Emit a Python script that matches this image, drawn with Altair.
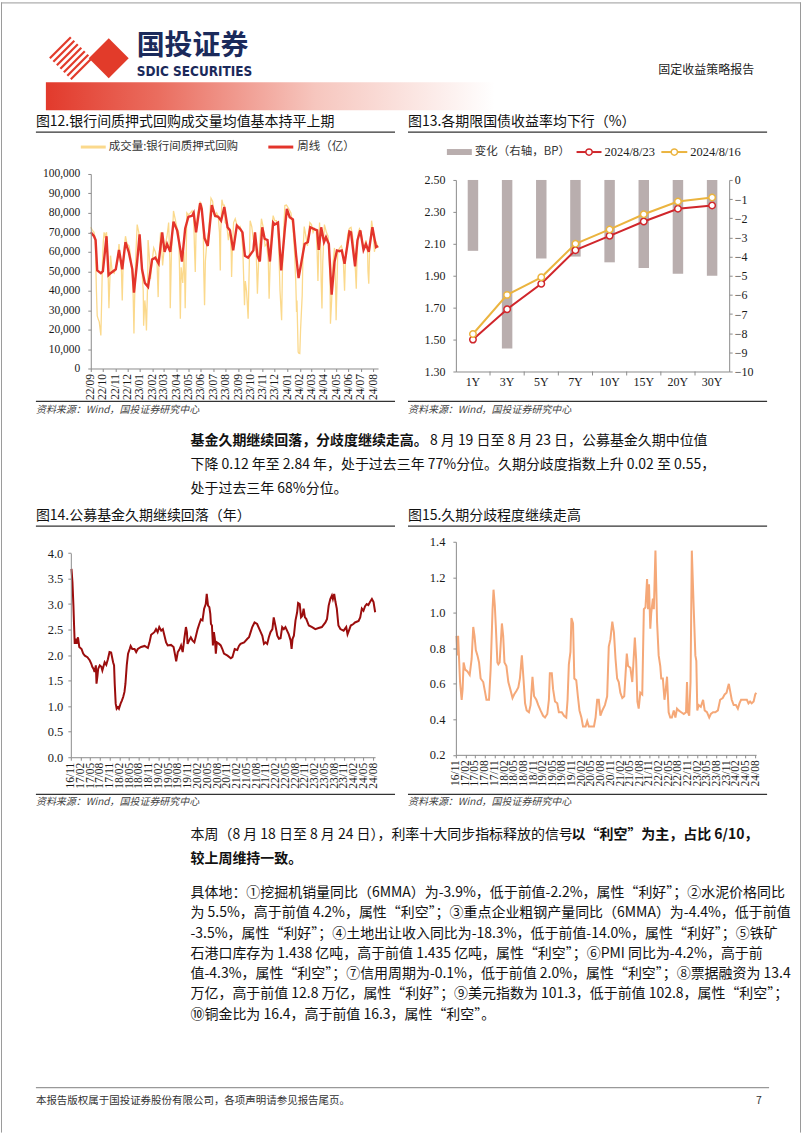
import altair as alt
import pandas as pd
import numpy as np

CJK = "Noto Sans CJK SC"
SERIF = "Liberation Serif"
LATIN_BOLD = "Liberation Sans Narrow, DejaVu Sans Condensed, Liberation Sans"

# page position of the first grid cell (top-left of the Fig.12 plot area)
OX, OY = 90, 172

# ---------------- Figure 12: interbank pledged repo volume (亿) ----------------
f12_start = pd.Timestamp("2022-09-01")
f12_daily_day = [0,4,8,11,14,16,19,21,25,27,29,31,33,35,39,42,45,48,49,53,58,62,66,70,73,76,78,80,83,86,90,95,99,103,105,107,108,111,115,119,123,127,130,131,134,136,138,141,142,145,148,152,156,160,164,167,169,173,175,178,182,185,189,193,196,197,200,203,205,210,214,218,220,222,224,228,231,233,234,237,238,242,247,251,255,257,259,261,265,271,275,279,280,282,284,288,292,296,298,302,305,308,312,316,319,321,322,325,328,331,333,337,341,345,348,349,351,354,358,362,366,370,374,377,381,383,386,388,390,393,395,399,403,407,410,413,416,419,423,427,432,436,440,442,445,448,452,456,460,463,466,469,473,475,478,481,485,491,496,501,505,508,510,511,514,515,518,520,524,526,529,533,537,540,543,547,551,555,559,561,563,566,567,570,571,573,575,579,584,588,590,593,594,597,600,604,607,608,611,612,617,621,625,627,629,631,635,637,641,645,649,653,656,658,660,663,666,670,674,678,682,686,687,689,691,695,696,700,703,707,711,712]
f12_daily_val = [72600,71000,70000,66000,40000,27000,25000,24000,17000,35000,55000,65000,70000,68000,70000,58000,31000,50000,58000,50000,49000,52000,55000,64000,56000,50000,35000,52000,62000,68000,64000,63000,57000,48000,38000,18000,30000,55000,74000,70000,63000,50000,40000,22000,35000,30000,19600,45000,66000,58000,46000,55000,62000,60000,56000,36700,55000,70000,65000,53000,62000,64000,68000,75000,55000,31000,60000,72000,81000,76000,72000,70000,50000,25600,52000,44000,60000,44000,31000,65000,80000,79000,80000,81000,78000,62000,49600,72000,80000,85500,84000,70000,50000,32500,55000,66000,70000,82000,87500,86000,80000,78000,80000,78000,70000,50400,70000,86800,84000,84000,75000,74000,66000,72000,60000,47000,62000,75000,77000,74000,72000,73000,70000,60000,32500,45000,40000,33000,25600,55000,76000,73000,66000,70000,60000,38500,55000,65000,77000,73000,63000,64000,55000,35900,57000,70000,78600,76000,76000,73000,62000,40000,24800,50000,70000,83800,84000,82000,80000,73000,60000,45000,29000,35000,8500,8000,7700,20000,37600,60000,73000,68000,63000,70000,75000,74000,70000,72000,71000,60000,45000,68000,75000,60000,45000,30800,55000,74000,70000,68000,63000,45000,23000,35000,53000,62000,40000,24800,50000,60000,62000,63000,60000,50000,40000,55000,65000,69000,72000,72600,68000,60000,50000,41000,58000,70000,71800,70000,64000,63000,66000,60000,50000,43600,60000,72000,76000,70000,60000,65000,63000,62000]
f12_week_day = [0,8,12,16,25,30,35,39,44,49,62,70,78,86,94,103,107,115,121,127,134,142,152,160,168,177,183,189,197,205,214,222,226,234,242,251,255,261,271,275,282,290,300,308,316,323,331,339,345,353,362,370,376,382,390,403,407,413,419,425,431,438,444,452,456,464,472,481,486,493,501,509,515,522,530,538,544,555,561,565,571,578,583,590,597,604,610,616,622,629,641,645,655,661,668,676,682,689,698,707,712]
f12_week_val = [70000,68000,66000,50400,49000,50000,60000,68000,48000,49000,51000,61000,51000,65000,60000,51000,39000,55000,69000,51000,44000,42000,56000,57000,54000,70000,60000,64000,60000,75500,71000,61000,55000,72000,78000,78500,80000,70000,85000,82000,67000,63000,84000,78500,78000,76000,83000,72600,71000,60700,73500,71800,70000,58000,57000,60700,70000,58000,55000,72600,66700,66000,55000,75000,74000,75000,50400,71800,82000,77800,76600,58000,46500,54700,64000,65000,72600,71500,71000,61000,72600,65000,67500,64000,38000,54700,60700,60300,60700,53800,70400,70000,52500,66000,71000,61000,64000,60000,72600,62400,63000]

# ---------------- Figure 13: government bond yields ----------------
tenors = ["1Y", "3Y", "5Y", "7Y", "10Y", "15Y", "20Y", "30Y"]
chg_bp = [-3.7, -8.8, -4.1, -4.0, -4.3, -4.6, -4.9, -5.0]
yld_0823 = [1.50, 1.69, 1.85, 2.06, 2.15, 2.24, 2.32, 2.34]
yld_0816 = [1.535, 1.78, 1.89, 2.10, 2.19, 2.285, 2.365, 2.39]
series13 = ["2024/8/23", "2024/8/16"]

# ---------------- Figure 14: fund duration (years) ----------------
f14_start = pd.Timestamp("2016-11-01")
f14_month = [0.2,0.5,0.8,1.0,1.2,1.5,1.8,2.2,2.6,3.3,3.8,4.3,5.1,5.8,6.3,6.6,7.0,7.3,7.7,7.9,8.2,8.4,8.9,9.4,9.7,10.4,10.9,11.4,11.9,12.4,13.0,13.3,13.5,13.8,14.1,14.5,14.8,15.3,15.7,16.1,16.5,16.8,17.2,17.6,18.1,18.4,18.9,19.6,20.1,20.6,21.6,22.7,23.7,24.2,24.7,25.7,26.2,26.7,27.2,27.8,28.3,28.8,29.3,29.8,30.8,31.6,32.1,32.4,32.9,33.4,33.9,34.4,34.9,35.4,35.7,35.9,36.4,36.9,37.4,38.0,38.5,39.0,39.5,40.0,40.5,41.0,41.5,41.8,42.2,42.6,42.9,43.1,43.4,43.7,44.0,44.3,44.6,44.9,45.6,46.1,46.6,47.1,48.2,49.2,49.7,50.4,51.2,51.7,52.2,53.3,54.3,54.8,55.3,55.8,56.5,57.3,58.4,58.9,59.4,59.9,60.4,60.9,61.4,62.0,62.4,63.0,63.5,64.0,64.5,65.0,65.5,66.0,66.5,67.0,67.6,67.9,68.2,68.6,69.1,69.6,69.9,70.4,70.8,71.2,71.6,72.0,72.4,73.2,74.2,75.2,76.2,77.2,78.3,78.8,79.3,79.8,80.3,80.6,81.0,81.4,81.8,82.3,82.9,83.9,84.7,85.1,85.7,86.1,86.9,87.4,88.5,89.0,89.5,90.0,90.5,91.0,91.5,92.0,92.6,93.1,93.6]
f14_val = [3.69,3.43,2.97,2.58,2.22,2.32,2.22,2.35,2.16,2.12,2.03,1.99,1.96,1.90,1.83,1.77,1.73,1.67,1.80,1.44,1.60,1.73,1.80,1.77,1.70,1.86,1.81,1.92,2.06,2.05,1.86,1.80,1.44,1.05,0.95,0.98,0.95,1.05,1.11,1.18,1.28,1.44,1.80,2.03,2.12,2.18,2.12,2.12,2.06,2.12,2.16,2.18,2.14,2.25,2.40,2.45,2.51,2.45,2.55,2.48,2.51,2.38,2.25,2.19,2.20,2.16,1.99,1.88,2.06,2.11,2.19,2.06,2.32,2.55,2.45,2.22,2.29,2.35,2.29,2.25,2.38,2.51,2.61,2.70,2.68,2.91,3.00,3.20,2.97,2.94,2.81,2.61,2.58,2.19,2.45,2.32,2.03,2.25,2.22,2.19,2.12,2.03,1.99,1.94,1.96,2.12,2.10,2.18,2.22,2.25,2.32,2.35,2.45,2.55,2.64,2.61,2.45,2.38,2.22,2.25,2.22,2.35,2.45,2.51,2.74,2.55,2.38,2.32,2.33,2.55,2.51,2.55,2.48,2.41,2.29,2.12,2.32,2.38,2.68,2.84,3.02,3.00,2.74,2.77,2.91,2.74,2.71,2.58,2.55,2.51,2.53,2.55,2.64,2.71,2.97,3.10,3.17,3.10,3.20,3.04,2.91,2.58,2.51,2.48,2.55,2.41,2.51,2.58,2.61,2.64,2.67,2.74,2.91,2.87,2.96,3.00,2.98,3.04,3.10,3.04,2.84]

# ---------------- Figure 15: duration dispersion ----------------
f15_month = [0.2,0.5,0.7,1.0,1.3,1.8,2.1,2.4,2.9,3.6,4.3,4.9,5.4,5.8,6.2,6.7,7.2,7.7,8.5,9.1,9.5,10.3,10.8,11.4,11.7,12.1,12.4,12.9,13.2,13.6,14.3,14.7,15.1,15.7,16.3,16.9,17.6,18.1,18.8,19.4,19.9,20.5,21.0,21.5,22.0,22.7,23.2,23.8,24.3,25.0,25.6,26.3,27.1,27.7,28.4,28.9,29.2,29.8,30.2,30.8,31.5,32.0,32.9,33.6,34.3,34.7,35.1,35.6,35.9,36.4,36.8,37.4,37.9,38.4,39.0,39.5,40.3,40.8,41.3,41.8,42.4,42.9,43.4,43.9,44.4,44.9,45.5,46.3,47.0,47.5,48.0,48.6,49.1,49.6,50.1,50.6,51.1,51.7,52.3,52.7,53.1,53.5,54.2,54.8,55.1,55.6,56.0,56.4,56.8,57.3,57.9,58.4,58.9,59.4,59.7,60.0,60.4,60.7,61.2,61.5,62.0,62.5,63.0,63.5,63.8,64.3,64.8,65.1,65.6,66.1,66.6,67.1,67.7,68.2,68.7,69.2,70.0,70.8,71.5,71.8,72.1,72.5,72.9,73.3,73.9,74.4,74.7,75.0,75.4,76.1,76.8,77.3,78.0,78.7,79.2,79.9,80.6,81.4,82.1,82.9,83.5,84.1,84.5,84.8,85.2,85.7,86.3,87.0,87.6,88.1,88.6,89.2,89.7,90.4,90.9,91.4,91.9,92.5,93.0,93.3]
f15_val = [0.87,0.76,0.87,0.74,0.61,0.51,0.57,0.72,0.68,0.67,0.65,0.74,0.92,0.87,0.79,0.76,0.72,0.63,0.61,0.55,0.51,0.51,0.68,1.02,1.13,1.04,0.93,0.72,0.71,0.72,0.94,0.87,0.72,0.70,0.61,0.57,0.52,0.54,0.56,0.58,0.63,0.76,0.63,0.49,0.45,0.44,0.48,0.64,0.53,0.51,0.48,0.45,0.42,0.41,0.43,0.51,0.66,0.66,0.57,0.50,0.49,0.44,0.44,0.42,0.41,0.51,0.71,0.78,0.97,0.94,0.63,0.62,0.53,0.45,0.41,0.36,0.36,0.39,0.36,0.36,0.36,0.36,0.41,0.51,0.51,0.42,0.45,0.48,0.53,0.81,0.85,0.95,0.89,0.74,0.63,0.61,0.55,0.52,0.53,0.65,0.77,0.70,0.69,0.61,0.70,0.86,0.74,0.50,0.46,0.55,0.54,1.02,1.03,1.19,1.02,1.16,0.91,1.00,1.08,1.02,1.35,0.95,0.76,0.70,0.63,0.63,0.51,0.55,0.64,0.44,0.41,0.41,0.45,0.41,0.46,0.45,0.44,0.43,0.44,0.61,0.44,0.42,0.61,1.35,1.02,0.76,0.73,0.45,0.48,0.47,0.51,0.45,0.44,0.41,0.43,0.44,0.44,0.45,0.51,0.52,0.54,0.55,0.58,0.60,0.56,0.51,0.48,0.48,0.46,0.49,0.51,0.51,0.51,0.51,0.49,0.50,0.49,0.50,0.54,0.55]

# ---------------- colours ----------------
RED12, YEL12 = "#E3342B", "#FBD98C"
RED13, GOLD13, BAR13 = "#D0262B", "#EBB43F", "#B9AEAE"
RED14, ORG15 = "#9B0D0D", "#F5A878"
AXC = "#8c8c8c"
AX = dict(domainColor=AXC, tickColor=AXC, labelFont=SERIF, labelColor="#1a1a1a", grid=False, title=None, zindex=1)


def dt(y, m, d=1):
    return alt.DateTime(year=y, month=m, date=d)


one = pd.DataFrame({"k": [0]})
FS = 14  # body text size


def T(s, x, y, size=FS, color="#111", weight="normal", align="left", font=CJK, style="normal"):
    return alt.Chart(one).mark_text(text=s, align=align, baseline="middle", fontSize=size, color=color,
                                    fontWeight=weight, font=font, fontStyle=style).encode(
        x=alt.value(x - OX), y=alt.value(y - OY))


def R(x1, y1, x2, y2, color="#333", w=1.0):
    return alt.Chart(one).mark_rule(color=color, strokeWidth=w).encode(
        x=alt.value(x1 - OX), y=alt.value(y1 - OY), x2=alt.value(x2 - OX), y2=alt.value(y2 - OY))


def BOX(x1, y1, x2, y2, color):
    return alt.Chart(one).mark_rect(color=color).encode(
        x=alt.value(x1 - OX), y=alt.value(y1 - OY), x2=alt.value(x2 - OX), y2=alt.value(y2 - OY))


def DOT(x, y, stroke, fill="white", size=40, shape="circle"):
    return alt.Chart(one).mark_point(shape=shape, filled=True, fill=fill, stroke=stroke, strokeWidth=1.5,
                                     size=size, opacity=1).encode(x=alt.value(x - OX), y=alt.value(y - OY))


# ---------------- page decorations (drawn inside the first cell) ----------------
deco = [BOX(0, 0, 802, 1133, "white")]
deco += [R(0, 0.5, 802, 0.5, "#9a9a9a", 1), R(0.5, 0, 0.5, 1133, "#9a9a9a", 1), R(801.5, 0, 801.5, 1133, "#9a9a9a", 1)]
# logo
cx, cy, r = 70, 56, 21
for c in np.linspace(-r, r, 7):
    deco.append(R(cx + (c - r) / 2, cy + (c + r) / 2, cx + (c + r) / 2, cy + (c - r) / 2, "#E23B2A", 2.2))
deco.append(alt.Chart(one).mark_point(shape="diamond", filled=True, size=1600, color="#E23B2A", opacity=1)
            .encode(x=alt.value(108 - OX), y=alt.value(56 - OY)))
deco.append(T("国投证券", 136, 45, size=28, color="#1B2A5B", weight="bold"))
deco.append(T("SDIC SECURITIES", 136, 69.5, size=13.5, color="#1B2A5B", weight="bold", font=LATIN_BOLD))
deco.append(T("固定收益策略报告", 659, 68, size=12, color="#222"))
band = alt.Chart(one).mark_rect(color=alt.LinearGradient(
    gradient="linear", x1=0, x2=1, y1=0, y2=0,
    stops=[alt.GradientStop(offset=0, color="#E23A2C"), alt.GradientStop(offset=0.25, color="#EA6D5F"),
           alt.GradientStop(offset=0.6, color="#F6C6BE"), alt.GradientStop(offset=1, color="#FFFFFF")])
).encode(x=alt.value(45 - OX), x2=alt.value(495 - OX), y=alt.value(80 - OY), y2=alt.value(108 - OY))
deco.append(band)

# figure titles / frames / sources
SRC = "资料来源：Wind，国投证券研究中心"
for (x0, x1, ytitle, yrule, ysrc, title) in [
    (35, 395, 120, 400, 409, "图12.银行间质押式回购成交量均值基本持平上期"),
    (408, 768, 120, 400, 409, "图13.各期限国债收益率均下行（%）"),
    (35, 395, 515, 794, 802, "图14.公募基金久期继续回落（年）"),
    (408, 768, 515, 794, 802, "图15.久期分歧程度继续走高"),
]:
    deco.append(T(title, x0, ytitle, size=14, color="#111"))
    deco.append(R(x0, ytitle + 10, x1, ytitle + 10, "#333", 1.3))
    deco.append(R(x0, yrule, x1, yrule, "#333", 1.3))
    deco.append(T(SRC, x0, ysrc, size=10, color="#444", style="italic"))

# legends
deco += [R(80, 145, 105, 145, YEL12, 3), T("成交量:银行间质押式回购", 108, 145, size=11.5, color="#333"),
         R(268, 145, 293, 145, RED12, 3), T("周线（亿）", 297, 145, size=11.5, color="#333")]
deco += [BOX(447, 147, 472, 153, BAR13), T("变化（右轴，BP）", 475, 150, size=11.5, color="#333"),
         R(577, 150, 602, 150, RED13, 2), DOT(589.5, 150, RED13), T("2024/8/23", 605, 150, size=12.5, color="#222", font=SERIF),
         R(662, 150, 688, 150, GOLD13, 2), DOT(675, 150, GOLD13), T("2024/8/16", 691, 150, size=12.5, color="#222", font=SERIF)]

# paragraphs
deco += [T("基金久期继续回落，分歧度继续走高。", 190, 440, weight="bold"),
         T("8 月 19 日至 8 月 23 日，公募基金久期中位值", 430, 440),
         T("下降 0.12 年至 2.84 年，处于过去三年 77%分位。久期分歧度指数上升 0.02 至 0.55，", 190, 464),
         T("处于过去三年 68%分位。", 190, 488)]
deco += [T("本周（8 月 18 日至 8 月 24 日），利率十大同步指标释放的信号", 190, 835),
         T("以“利空”为主，占比 6/10，", 572, 835, weight="bold"),
         T("较上周维持一致。", 190, 859, weight="bold")]
p3 = ["具体地：①挖掘机销量同比（6MMA）为-3.9%，低于前值-2.2%，属性“利好”；②水泥价格同比",
      "为 5.5%，高于前值 4.2%，属性“利空”；③重点企业粗钢产量同比（6MMA）为-4.4%，低于前值",
      "-3.5%，属性“利好”；④土地出让收入同比为-18.3%，低于前值-14.0%，属性“利好”；⑤铁矿",
      "石港口库存为 1.438 亿吨，高于前值 1.435 亿吨，属性“利空”；⑥PMI 同比为-4.2%，高于前",
      "值-4.3%，属性“利空”；⑦信用周期为-0.1%，低于前值 2.0%，属性“利空”；⑧票据融资为 13.4",
      "万亿，高于前值 12.8 万亿，属性“利好”；⑨美元指数为 101.3，低于前值 102.8，属性“利空”；",
      "⑩铜金比为 16.4，高于前值 16.3，属性“利空”。"]
for i, line in enumerate(p3):
    deco.append(T(line, 190, 893 + i * 20.3))
# footer
deco += [R(35, 1088, 770, 1088, "#999", 1.2),
         T("本报告版权属于国投证券股份有限公司，各项声明请参见报告尾页。", 35, 1101, size=10.5, color="#333"),
         T("7", 757, 1101, size=10.5, color="#333")]

# ---------------- Figure 12 chart ----------------
d12 = pd.DataFrame({"date": f12_start + pd.to_timedelta(f12_daily_day, unit="D"), "v": f12_daily_val})
w12 = pd.DataFrame({"date": f12_start + pd.to_timedelta(f12_week_day, unit="D"), "v": f12_week_val})
months12 = [dt(2022 + (8 + i) // 12, (8 + i) % 12 + 1) for i in range(24)]
x12 = alt.X("date:T", scale=alt.Scale(domain=[dt(2022, 9, 1), dt(2024, 8, 13)]),
            axis=alt.Axis(values=months12, format="%y/%m", labelAngle=270, labelAlign="right",
                          labelBaseline="middle", labelFontSize=11.5, labelPadding=2, tickSize=3,
                          labelOverlap=False, labelFlush=False, **AX))
y12 = alt.Y("v:Q", scale=alt.Scale(domain=[0, 100000], nice=False),
            axis=alt.Axis(values=list(range(0, 100001, 10000)), format=",.0f", labelFontSize=11.5,
                          labelPadding=8, tickSize=3, **AX))
line_d12 = alt.Chart(d12).mark_line(color=YEL12, strokeWidth=1.3).encode(x=x12, y=y12)
line_w12 = alt.Chart(w12).mark_line(color=RED12, strokeWidth=2.4).encode(x=x12, y=y12)
c12 = alt.layer(*deco, line_d12, line_w12).properties(width=288, height=195)

# ---------------- Figure 13 chart ----------------
df13b = pd.DataFrame({"tenor": tenors, "chg": chg_bp})
df13l = pd.DataFrame({"tenor": tenors * 2, "series": [series13[0]] * 8 + [series13[1]] * 8,
                      "y": yld_0823 + yld_0816})
x13 = alt.X("tenor:N", scale=alt.Scale(domain=tenors, paddingInner=0, paddingOuter=0),
            axis=alt.Axis(labelAngle=0, ticks=False, labelPadding=5, labelFontSize=12, **AX))
yl_scale = alt.Scale(domain=[1.3, 2.5], range=[198, 6], nice=False)
bars13 = alt.Chart(df13b).mark_bar(size=10.5, color=BAR13).encode(
    x=x13,
    y=alt.Y("chg:Q", scale=alt.Scale(domain=[-10, 0], range=[198, 6], nice=False),
            axis=alt.Axis(orient="right", values=list(range(-10, 1)), format="d", tickSize=3,
                          labelPadding=2, labelFontSize=12, **AX)))
col13 = alt.Scale(domain=series13, range=[RED13, GOLD13])
lines13 = alt.Chart(df13l).mark_line(strokeWidth=2).encode(
    x=x13,
    y=alt.Y("y:Q", scale=yl_scale,
            axis=alt.Axis(orient="left", values=[1.3, 1.5, 1.7, 1.9, 2.1, 2.3, 2.5], format=".2f",
                          tickSize=3, labelPadding=8, labelFontSize=12, **AX)),
    color=alt.Color("series:N", scale=col13, legend=None))
pts13 = alt.Chart(df13l).mark_point(shape="circle", filled=True, fill="white", size=42, strokeWidth=1.5,
                                    opacity=1).encode(
    x=x13, y=alt.Y("y:Q", scale=yl_scale, axis=None),
    stroke=alt.Stroke("series:N", scale=col13, legend=None))
ticks13 = alt.Chart(pd.DataFrame({"tenor": tenors[1:]})).mark_rule(color=AXC).encode(
    x=alt.X("tenor:N", bandPosition=0), y=alt.value(198), y2=alt.value(202))
c13 = alt.layer(bars13, lines13, pts13, ticks13).resolve_scale(y="independent").properties(width=274, height=198)

# ---------------- Figure 14 / 15 charts ----------------
quarters = [dt(2016 + (10 + 3 * i) // 12, (10 + 3 * i) % 12 + 1) for i in range(32)]
d14 = pd.DataFrame({"date": f14_start + pd.to_timedelta(np.array(f14_month) * 30.4375, unit="D"), "v": f14_val})
d15 = pd.DataFrame({"date": f14_start + pd.to_timedelta(np.array(f15_month) * 30.4375, unit="D"), "v": f15_val})


def qaxis():
    return alt.Axis(values=quarters, format="%y/%m", labelAngle=270, labelAlign="right", labelBaseline="middle",
                    labelFontSize=11.5, labelPadding=2, tickSize=3, labelOverlap=False, labelFlush=False, **AX)


c14 = alt.Chart(d14).mark_line(color=RED14, strokeWidth=2).encode(
    x=alt.X("date:T", scale=alt.Scale(domain=[dt(2016, 11, 1), dt(2024, 8, 19)], range=[-20, 285]), axis=qaxis()),
    y=alt.Y("v:Q", scale=alt.Scale(domain=[0, 4], range=[216, 11.3], nice=False),
            axis=alt.Axis(values=[0, 0.5, 1, 1.5, 2, 2.5, 3, 3.5, 4], format=".1f", offset=20, tickSize=3,
                          labelPadding=5, labelFontSize=12.5, **AX))
).properties(width=280.3, height=216)

c15 = alt.Chart(d15).mark_line(color=ORG15, strokeWidth=2).encode(
    x=alt.X("date:T", scale=alt.Scale(domain=[dt(2016, 11, 1), dt(2024, 8, 10)]), axis=qaxis()),
    y=alt.Y("v:Q", scale=alt.Scale(domain=[0.2, 1.4], nice=False),
            axis=alt.Axis(values=[0.2, 0.4, 0.6, 0.8, 1.0, 1.2, 1.4], format=".1f", tickSize=3,
                          labelPadding=8, labelFontSize=12.5, **AX))
).properties(width=301, height=213.6)

chart = alt.concat(c12, c13, c14, c15, columns=2, spacing={"row": 170.7, "column": 78},
                   align="none", bounds="flush").properties(padding=0, background="white").configure_view(strokeWidth=0)

chart.save("out.html", embed_options={"renderer": "svg", "actions": False})
